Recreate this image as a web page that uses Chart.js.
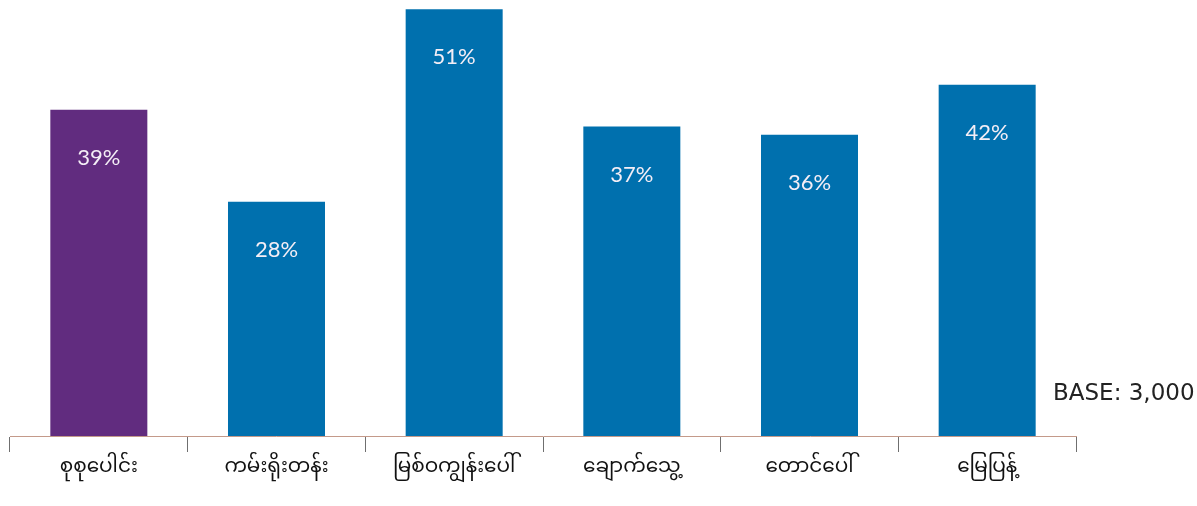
<!DOCTYPE html>
<html>
<head>
<meta charset="utf-8">
<script src="https://cdn.jsdelivr.net/npm/chart.js@4"></script>
<style>
html,body{margin:0;padding:0;background:#fff;}
#wrap{width:1197px;height:506px;position:relative;}
</style>
</head>
<body>
<div id="wrap"><canvas id="c" width="1197" height="506"></canvas></div>
<script>
const categories = ["စုစုပေါင်း", "ကမ်းရိုးတန်း", "မြစ်ဝကျွန်းပေါ်", "ချောက်သွေ့", "တောင်ပေါ်", "မြေပြန့်"];
const values = [39, 28, 51, 37, 36, 42];
const barColors = ["#612C7F", "#0070AE", "#0070AE", "#0070AE", "#0070AE", "#0070AE"];
const baseNote = "BASE: 3,000";

const valueLabels = {
  id: 'valueLabels',
  afterDatasetsDraw(chart) {
    const ctx = chart.ctx;
    const meta = chart.getDatasetMeta(0);
    ctx.save();
    ctx.fillStyle = '#f4eef6';
    ctx.font = '22px Lato, "Open Sans", sans-serif';
    ctx.textAlign = 'center';
    ctx.textBaseline = 'middle';
    meta.data.forEach((bar, i) => {
      ctx.fillText(values[i] + '%', bar.x, bar.y + 48);
    });
    ctx.fillStyle = '#222';
    ctx.font = '23px "DejaVu Sans", sans-serif';
    ctx.textAlign = 'left';
    ctx.fillText(baseNote, 1053, 394);
    ctx.restore();
  }
};

new Chart(document.getElementById('c'), {
  type: 'bar',
  data: {
    labels: categories,
    datasets: [{
      data: values,
      backgroundColor: barColors,
      borderWidth: 0,
      barPercentage: 1,
      categoryPercentage: 0.546
    }]
  },
  options: {
    responsive: false,
    animation: false,
    layout: { padding: { left: 10, right: 121, top: 1, bottom: 18 } },
    plugins: { legend: { display: false }, tooltip: { enabled: false } },
    scales: {
      y: {
        display: false,
        min: 0,
        max: 52
      },
      x: {
        grid: {
          offset: true,
          drawOnChartArea: false,
          drawTicks: true,
          tickLength: 16,
          color: '#6f6f6f',
          lineWidth: 1
        },
        border: { display: true, color: '#c49a8a', width: 1 },
        ticks: {
          color: '#111',
          font: { size: 20, family: '"Noto Sans Myanmar", "Myanmar Text", Padauk, "Noto Sans", sans-serif' },
          padding: 6,
          maxRotation: 0,
          autoSkip: false
        }
      }
    }
  },
  plugins: [valueLabels]
});
</script>
</body>
</html>
